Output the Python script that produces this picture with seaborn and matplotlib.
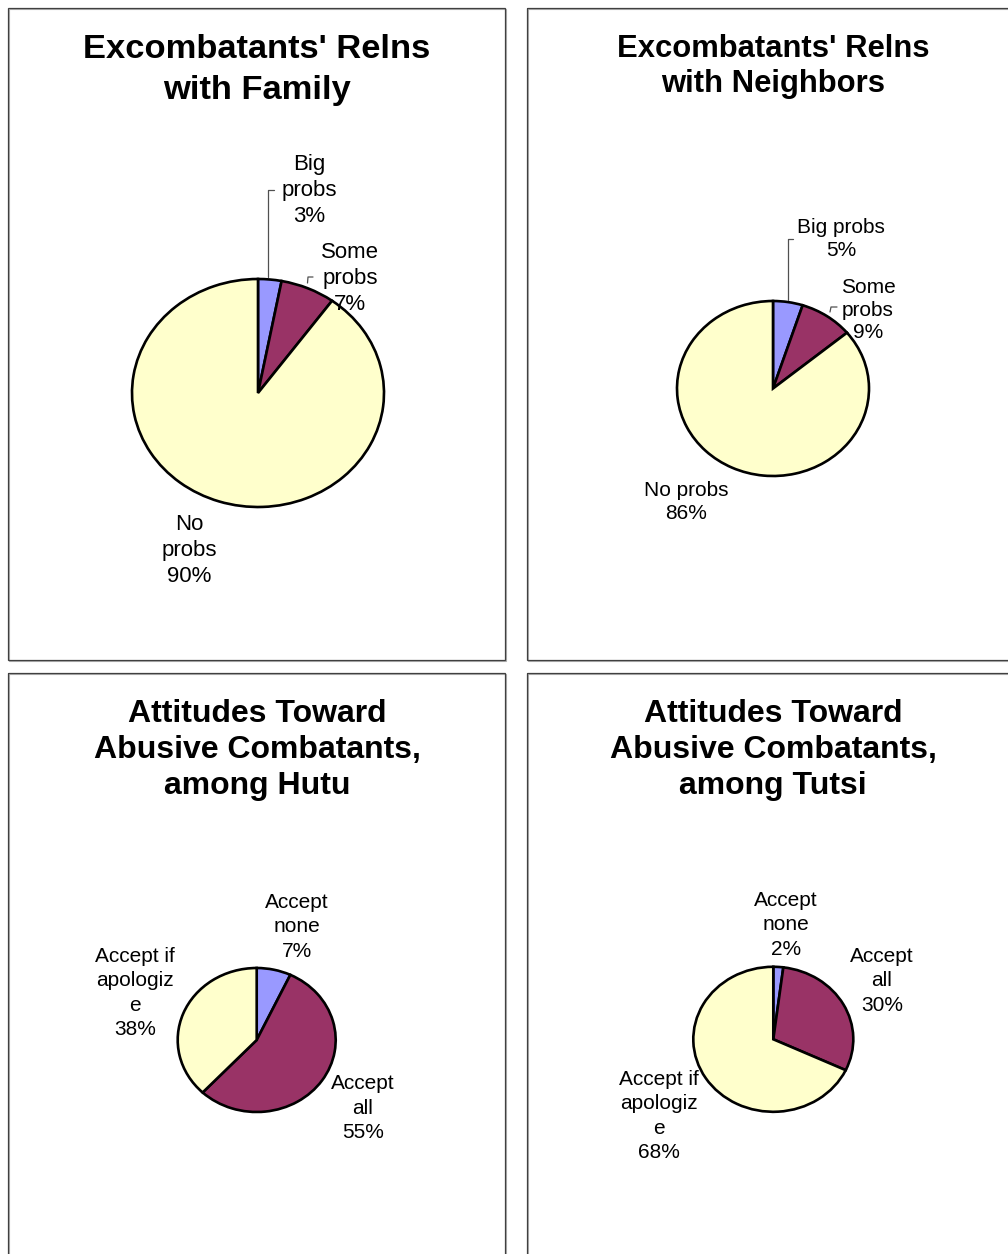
import matplotlib
matplotlib.use("Agg")
import matplotlib.pyplot as plt
import seaborn as sns
from matplotlib.patches import Rectangle

sns.set_theme(style="white")
plt.rcParams['font.family'] = ['Liberation Sans', 'DejaVu Sans']

W, H = 1008, 1254

# ---- survey shares (percent) ----
family_labels = ["Big\nprobs", "Some\nprobs", "No\nprobs"]
family_values = [3, 7, 90]

neighbor_labels = ["Big probs", "Some\nprobs", "No probs"]
neighbor_values = [5, 9, 86]

hutu_labels = ["Accept\nnone", "Accept\nall", "Accept if\napologiz\ne"]
hutu_values = [7, 55, 38]

tutsi_labels = ["Accept\nnone", "Accept\nall", "Accept if\napologiz\ne"]
tutsi_values = [2, 30, 68]

titles = [
    "Excombatants' Relns\nwith Family",
    "Excombatants' Relns\nwith Neighbors",
    "Attitudes Toward\nAbusive Combatants,\namong Hutu",
    "Attitudes Toward\nAbusive Combatants,\namong Tutsi",
]

palette = sns.color_palette(["#9999FF", "#993366", "#FFFFCC"])

# ---- layout (pixel units, origin top-left) ----
panels = [
    dict(labels=family_labels, values=family_values, title=titles[0],
         box=(8, 8, 505, 660), title_xy=(257, 70), title_size=24.8, title_ls=1.42,
         pie=(258, 393, 126, 114), label_size=16, label_ls=1.32,
         label_xy=[(309, 190.5), (350, 278.5), (189, 550.5)],
         leaders=[[(268, 277), (268, 190), (274, 190)],
                  [(307.5, 283), (308, 277), (313, 277)]]),
    dict(labels=neighbor_labels, values=neighbor_values, title=titles[1],
         box=(527, 8, 1015, 660), title_xy=(773, 66.5), title_size=22.3, title_ls=1.2,
         pie=(773, 388.5, 96, 87.5), label_size=15, label_ls=1.25,
         label_xy=[(841, 239), (868, 310), (686, 502)],
         leaders=[[(788, 300), (788, 239), (793, 239)],
                  [(830, 312), (831, 307), (837, 307)]]),
    dict(labels=hutu_labels, values=hutu_values, title=titles[2],
         box=(8, 673, 505, 1262), title_xy=(257, 750), title_size=23, title_ls=1.24,
         pie=(256.7, 1040, 79, 72), label_size=15, label_ls=1.35,
         label_xy=[(297, 927), (363, 1108), (135, 993)],
         leaders=[]),
    dict(labels=tutsi_labels, values=tutsi_values, title=titles[3],
         box=(527, 673, 1015, 1262), title_xy=(773, 750), title_size=23, title_ls=1.24,
         pie=(773.3, 1039.3, 80, 72.5), label_size=15, label_ls=1.35,
         label_xy=[(786, 925), (882, 981), (659, 1116)],
         leaders=[]),
]

fig = plt.figure(figsize=(W / 100, H / 100), dpi=100)
fig.patch.set_facecolor("white")

# pies: each in its own axes sized to the pie's ellipse
for p in panels:
    cx, cy, rx, ry = p["pie"]
    ax = fig.add_axes([(cx - rx) / W, 1 - (cy + ry) / H, 2 * rx / W, 2 * ry / H])
    ax.pie(p["values"], colors=palette, startangle=90, counterclock=False,
           wedgeprops=dict(edgecolor="black", linewidth=1.9))
    ax.set_aspect("auto")
    ax.set_xlim(-1.0, 1.0)
    ax.set_ylim(-1.0, 1.0)
    ax.axis("off")

# overlay for frames, titles, labels and leader lines
ov = fig.add_axes([0, 0, 1, 1])
ov.set_xlim(0, W)
ov.set_ylim(H, 0)
ov.axis("off")
ov.patch.set_alpha(0)

for p in panels:
    x0, y0, x1, y1 = p["box"]
    ov.add_patch(Rectangle((x0 + 1, y0 + 1), x1 - x0, y1 - y0, fill=False,
                           ec="#b0b0b0", lw=0.8, zorder=1))
    ov.add_patch(Rectangle((x0, y0), x1 - x0, y1 - y0, fill=False,
                           ec="#404040", lw=0.9, zorder=2))
    tx, ty = p["title_xy"]
    ov.text(tx, ty, p["title"], ha="center", va="center", fontsize=p["title_size"],
            fontweight="bold", linespacing=p["title_ls"], color="black", zorder=5)
    for lab, val, (lx, ly) in zip(p["labels"], p["values"], p["label_xy"]):
        ov.text(lx, ly, f"{lab}\n{val}%", ha="center", va="center",
                fontsize=p["label_size"], linespacing=p["label_ls"],
                color="black", zorder=6)
    for pts in p["leaders"]:
        xs, ys = zip(*pts)
        ov.plot(xs, ys, color="#505050", lw=0.9, zorder=4)

fig.savefig("out.png", dpi=100, facecolor="white")
